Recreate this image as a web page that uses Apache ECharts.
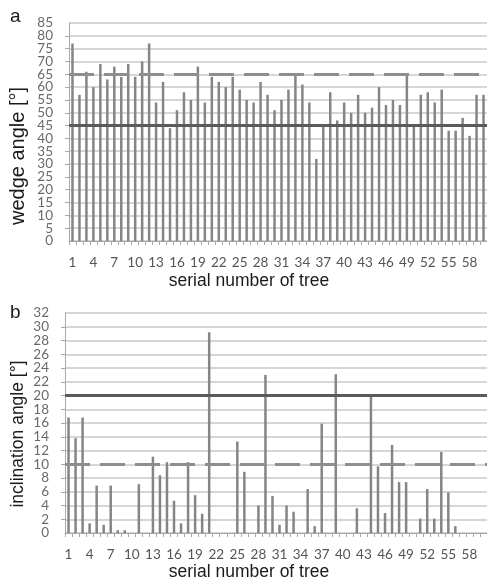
<!DOCTYPE html>
<html>
<head>
<meta charset="utf-8" />
<title>wedge angle / inclination angle</title>
<style>
  html, body { margin: 0; padding: 0; background: #fff; }
  #chartmain { width: 487px; height: 580px; }
</style>
</head>
<body>
<div id="chartmain"></div>
<script src="https://cdn.jsdelivr.net/npm/echarts@6.0.0/dist/echarts.min.js"></script>
<script>
// serial number of tree (x axis)
var trees = [1, 2, 3, 4, 5, 6, 7, 8, 9, 10, 11, 12, 13, 14, 15, 16, 17, 18, 19, 20,
  21, 22, 23, 24, 25, 26, 27, 28, 29, 30, 31, 32, 33, 34, 35, 36, 37, 38, 39, 40,
  41, 42, 43, 44, 45, 46, 47, 48, 49, 50, 51, 52, 53, 54, 55, 56, 57, 58, 59, 60];

// a: wedge angle [°]
var wedgeAngle = [77, 57, 66, 60, 69, 63, 68, 64, 69, 64, 70, 77, 54, 62, 44, 51, 58, 55, 68, 54,
  64, 62, 60, 64, 59, 55, 54, 62, 57, 51, 55, 59, 65, 61, 54, 32, 45, 58, 47, 54,
  50, 57, 50, 52, 60, 53, 55, 53, 65, 45, 57, 58, 54, 59, 43, 43, 48, 41, 57, 57];
var wedgeLimits = [45, 65];   // solid, dashed
var wedgeTicks = [0, 85, 5];  // min, max, step

// b: inclination angle [°]
var inclinationAngle = [16.8, 13.8, 16.8, 1.4, 6.9, 1.2, 6.9, 0.4, 0.4, 0, 7.1, 0, 11.1, 8.4, 10.3, 4.7, 1.4, 10.3, 5.5, 2.8,
  29.2, 0, 0, 0, 13.3, 8.9, 0, 4.0, 23.0, 5.4, 1.2, 4.0, 3.1, 0, 6.4, 1.0, 15.9, 0, 23.1, 0,
  0, 3.6, 0, 19.9, 9.7, 2.9, 12.8, 7.4, 7.4, 0, 2.1, 6.4, 2.1, 11.8, 5.9, 1.0, 0, 0, 0, 0];
var inclinationLimits = [20, 10];
var inclinationTicks = [0, 32, 2];

var gray = '#a8a8a8';
var labelFont = {color: '#6a6a6a', fontSize: 13.5, fontFamily: 'Lato'};

function valueAxis(gi, ticks, margin) {
  return {
    type: 'value', gridIndex: gi, position: 'left', min: ticks[0], max: ticks[1], interval: ticks[2],
    axisLine: {show: true, lineStyle: {color: gray}},
    axisTick: {show: true, length: 4, lineStyle: {color: gray}},
    // end labels come from the ends axis below (echarts would drop their neighbours)
    axisLabel: Object.assign({margin: margin, showMinLabel: false, showMaxLabel: false}, labelFont),
    splitLine: {show: true, lineStyle: {color: '#c8c8c8', width: 1.5}}
  };
}

// same scale, only the two end labels
function endsAxis(gi, ticks, margin) {
  return {
    type: 'value', gridIndex: gi, position: 'left', min: ticks[0], max: ticks[1],
    interval: ticks[1] - ticks[0],
    axisLine: {show: false}, axisTick: {show: false}, splitLine: {show: false},
    axisLabel: Object.assign({margin: margin, showMinLabel: true, showMaxLabel: true}, labelFont)
  };
}

function catAxis(gi, margin) {
  return {
    type: 'category', gridIndex: gi, data: trees,
    axisLine: {show: true, lineStyle: {color: gray}},
    axisTick: {show: true, interval: 0, length: 4, lineStyle: {color: gray}},
    axisLabel: {interval: 2, color: '#555', fontSize: 13.5, fontFamily: 'Lato', margin: margin,
      hideOverlap: false},
    splitLine: {show: false}
  };
}

function barSeries(gi, data, limits) {
  return {
    type: 'bar', xAxisIndex: gi, yAxisIndex: gi, data: data, barWidth: 2.5,
    itemStyle: {color: '#858585'},
    emphasis: {disabled: true},
    markLine: {
      silent: true, symbol: ['none', 'none'], label: {show: false},
      data: [
        {yAxis: limits[0], lineStyle: {color: '#5b5b5b', width: 3, type: 'solid'}},
        {yAxis: limits[1], lineStyle: {color: '#8e8e8e', width: 3, type: [25, 10]}}
      ]
    }
  };
}

function label(txt, x, y, size, rot, align) {
  return {
    type: 'text', x: x, y: y, rotation: rot || 0,
    style: {text: txt, font: size + 'px "Liberation Sans", Arial', fill: '#1a1a1a',
      textAlign: align || 'center', textVerticalAlign: 'middle'}
  };
}

var option = {
  animation: false,
  grid: [
    {left: 69, top: 23, width: 418, height: 218},
    {left: 65, top: 313, width: 422, height: 220}
  ],
  xAxis: [catAxis(0, 15), catAxis(1, 15)],
  yAxis: [
    valueAxis(0, wedgeTicks, 16), valueAxis(1, inclinationTicks, 16),
    endsAxis(0, wedgeTicks, 16), endsAxis(1, inclinationTicks, 16)
  ],
  series: [
    barSeries(0, wedgeAngle, wedgeLimits),
    barSeries(1, inclinationAngle, inclinationLimits)
  ],
  graphic: [
    label('a', 10, 16.5, 19, 0, 'left'),
    label('b', 10, 312.5, 19, 0, 'left'),
    label('wedge angle [°]', 18, 156, 20, Math.PI / 2),
    label('inclination angle [°]', 18, 434, 17.5, Math.PI / 2),
    label('serial number of tree', 249, 281, 17.5),
    label('serial number of tree', 249, 572, 17.5)
  ]
};

var myChart = echarts.init(document.getElementById('chartmain'));
myChart.setOption(option);
</script>
</body>
</html>
